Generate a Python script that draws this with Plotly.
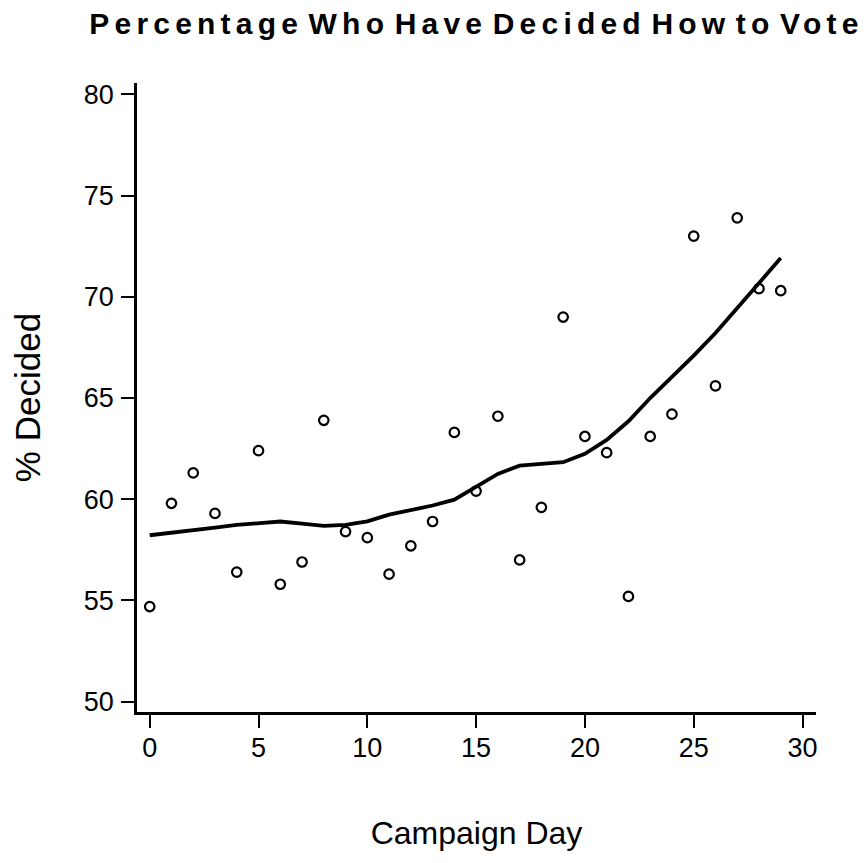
import plotly.graph_objects as go

# Daily poll results over the campaign
days = list(range(30))
pct_decided = [54.7, 59.8, 61.3, 59.3, 56.4, 62.4, 55.8, 56.9, 63.9, 58.4,
               58.1, 56.3, 57.7, 58.9, 63.3, 60.4, 64.1, 57.0, 59.6, 69.0,
               63.1, 62.3, 55.2, 63.1, 64.2, 73.0, 65.6, 73.9, 70.4, 70.3]

# Smoothed (loess) trend through the daily values
trend = [58.22, 58.36, 58.49, 58.60, 58.73, 58.83, 58.90, 58.80, 58.68, 58.73,
         58.91, 59.24, 59.47, 59.69, 59.98, 60.64, 61.25, 61.66, 61.76, 61.83,
         62.24, 62.93, 63.85, 65.00, 66.04, 67.09, 68.21, 69.44, 70.68, 71.91]

x_ticks = [0, 5, 10, 15, 20, 25, 30]
y_ticks = [50, 55, 60, 65, 70, 75, 80]

FONT = "Liberation Sans, Arial, Helvetica, sans-serif"

fig = go.Figure()
fig.add_trace(go.Scatter(
    x=days, y=trend, mode="lines",
    line=dict(color="black", width=3.8),
    hoverinfo="skip", showlegend=False,
))
fig.add_trace(go.Scatter(
    x=days, y=pct_decided, mode="markers",
    marker=dict(symbol="circle-open", size=9.5, color="black",
                line=dict(color="black", width=2.2)),
    showlegend=False,
))

axis_common = dict(
    showline=True, linecolor="black", linewidth=2.5,
    ticks="outside", ticklen=13, tickwidth=2, tickcolor="black",
    showgrid=False, zeroline=False, mirror=False,
    tickfont=dict(family=FONT, size=27, color="black"),
)

fig.update_layout(
    width=868, height=863,
    margin=dict(l=137, r=52, t=83, b=151),
    paper_bgcolor="white", plot_bgcolor="white",
    title=dict(
        text='<span style="letter-spacing:5.2px;word-spacing:-8px">'
             'Percentage Who Have Decided How to Vote</span>',
        font=dict(family=FONT, size=30, color="black", weight="bold"),
        x=0.5, xref="paper", xanchor="center",
        y=1 - 23 / 863, yref="container", yanchor="middle",
    ),
    xaxis=dict(
        range=[-0.584, 30.62], tickvals=x_ticks, ticklabelstandoff=-3,
        title=dict(text="Campaign Day", standoff=60,
                   font=dict(family=FONT, size=32, color="black")),
        **axis_common,
    ),
    yaxis=dict(
        range=[49.49, 80.56], tickvals=y_ticks, ticklabelstandoff=2,
        title=dict(text="% Decided", standoff=33,
                   font=dict(family=FONT, size=35, color="black")),
        **axis_common,
    ),
)

fig.write_html("out.html")
